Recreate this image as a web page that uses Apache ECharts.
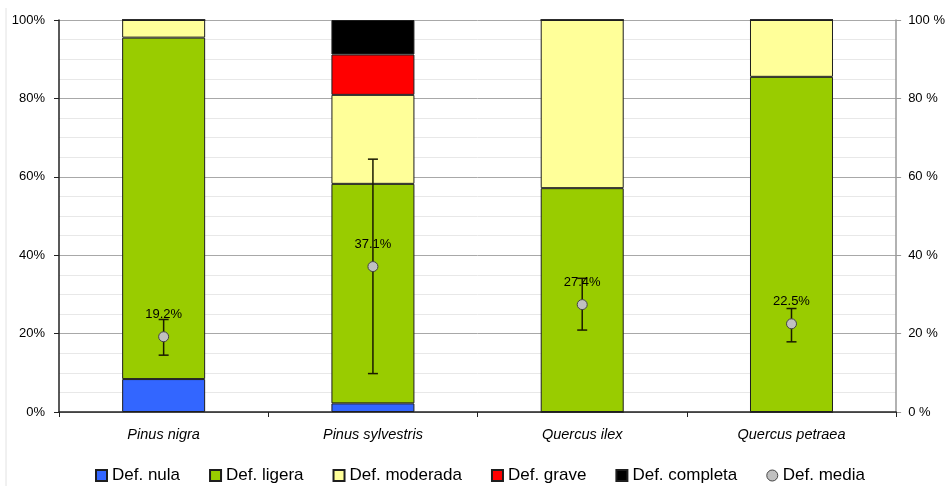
<!DOCTYPE html>
<html>
<head>
<meta charset="utf-8">
<script src="https://cdn.jsdelivr.net/npm/echarts@6/dist/echarts.min.js"></script>
<style>html,body{margin:0;padding:0;background:#fff}#c{width:948px;height:486px}</style>
</head>
<body>
<div id="c"></div>
<script>
var categories = ['Pinus nigra', 'Pinus sylvestris', 'Quercus ilex', 'Quercus petraea'];
var defNula = [8.4, 2.2, 0, 0];
var defLigera = [87.1, 56.0, 57.1, 85.5];
var defModerada = [4.5, 22.7, 42.9, 14.5];
var defGrave = [0, 10.3, 0, 0];
var defCompleta = [0, 8.8, 0, 0];
var defMedia = [19.2, 37.1, 27.4, 22.5];
var errLow = [14.5, 9.8, 20.9, 17.9];
var errHigh = [23.6, 64.5, 34.1, 26.4];
var yTicks = [0, 20, 40, 60, 80, 100];

var font = 'Liberation Sans, Arial, sans-serif';
var chart = echarts.init(document.getElementById('c'));

function barSeries(name, data, color) {
  return {
    name: name, type: 'bar', stack: 'def', data: data, barWidth: 83,
    itemStyle: { color: color, borderColor: '#1e1e1e', borderWidth: 1 },
    emphasis: { disabled: true }
  };
}

var errData = categories.map(function (c, i) { return [i, errLow[i], errHigh[i]]; });

chart.setOption({
  animation: false,
  textStyle: { fontFamily: font },
  graphic: [{
    type: 'line', shape: { x1: 6, y1: 8, x2: 6, y2: 486 },
    style: { stroke: '#e2e2e2', lineWidth: 1 }
  }],
  grid: { left: 59, right: 50, top: 20, bottom: 74 },
  legend: {
    left: 90, top: 462, itemWidth: 11, itemHeight: 11, itemGap: 29,
    textStyle: { fontSize: 17, color: '#000', fontFamily: font },
    data: [
      { name: 'Def. nula', icon: 'rect' },
      { name: 'Def. ligera', icon: 'rect' },
      { name: 'Def. moderada', icon: 'rect' },
      { name: 'Def. grave', icon: 'rect' },
      { name: 'Def. completa', icon: 'rect' },
      { name: 'Def. media', icon: 'circle', itemStyle: { color: '#c0c0c0', borderColor: '#444', borderWidth: 1 } }
    ]
  },
  xAxis: {
    type: 'category', data: categories,
    axisLine: { lineStyle: { color: '#222', width: 1.5 } },
    axisTick: { show: true, length: 5, interval: 0, lineStyle: { color: '#222' } },
    axisLabel: { fontSize: 14.5, fontStyle: 'italic', color: '#000', margin: 15, interval: 0 },
    splitLine: { show: false }
  },
  yAxis: [{
    type: 'value', min: 0, max: 100, interval: 20,
    axisLine: { show: true, lineStyle: { color: '#222', width: 1.5 } },
    axisTick: { show: true, length: 5, lineStyle: { color: '#222' } },
    axisLabel: { fontSize: 13, color: '#000', margin: 14, formatter: function (v) { return yTicks.indexOf(v) >= 0 ? v + '%' : ''; } },
    splitLine: { show: true, lineStyle: { color: '#a8a8a8', width: 1 } },
    minorTick: { show: false, splitNumber: 4 },
    minorSplitLine: { show: true, lineStyle: { color: '#e8e8e8', width: 1 } }
  }, {
    type: 'value', min: 0, max: 100, interval: 20, position: 'right',
    axisLine: { show: true, lineStyle: { color: '#999', width: 1.5 } },
    axisTick: { show: true, length: 5, lineStyle: { color: '#999' } },
    axisLabel: { fontSize: 13, color: '#000', margin: 12, formatter: function (v) { return v + ' %'; } },
    splitLine: { show: false }
  }],
  series: [
    barSeries('Def. nula', defNula, '#3366ff'),
    barSeries('Def. ligera', defLigera, '#99cc00'),
    barSeries('Def. moderada', defModerada, '#ffff99'),
    barSeries('Def. grave', defGrave, '#ff0000'),
    barSeries('Def. completa', defCompleta, '#000000'),
    {
      name: 'err', type: 'custom', data: errData, z: 5,
      encode: { x: 0, y: [1, 2] },
      renderItem: function (params, api) {
        var x = api.value(0);
        var lo = api.coord([x, api.value(1)]);
        var hi = api.coord([x, api.value(2)]);
        var w = 5;
        var st = { stroke: '#1a1a00', lineWidth: 1.5 };
        return {
          type: 'group', children: [
            { type: 'line', shape: { x1: lo[0], y1: lo[1], x2: hi[0], y2: hi[1] }, style: st },
            { type: 'line', shape: { x1: lo[0] - w, y1: lo[1], x2: lo[0] + w, y2: lo[1] }, style: st },
            { type: 'line', shape: { x1: hi[0] - w, y1: hi[1], x2: hi[0] + w, y2: hi[1] }, style: st }
          ]
        };
      }
    },
    {
      name: 'Def. media', type: 'scatter', data: defMedia, z: 6,
      symbol: 'circle', symbolSize: 10,
      itemStyle: { color: '#c0c0c0', borderColor: '#444', borderWidth: 1, opacity: 1 },
      label: { show: true, position: 'top', distance: 10, fontSize: 13, color: '#000',
        formatter: function (p) { return p.value.toFixed(1) + '%'; } },
      emphasis: { disabled: true }
    }
  ]
});
</script>
</body>
</html>
